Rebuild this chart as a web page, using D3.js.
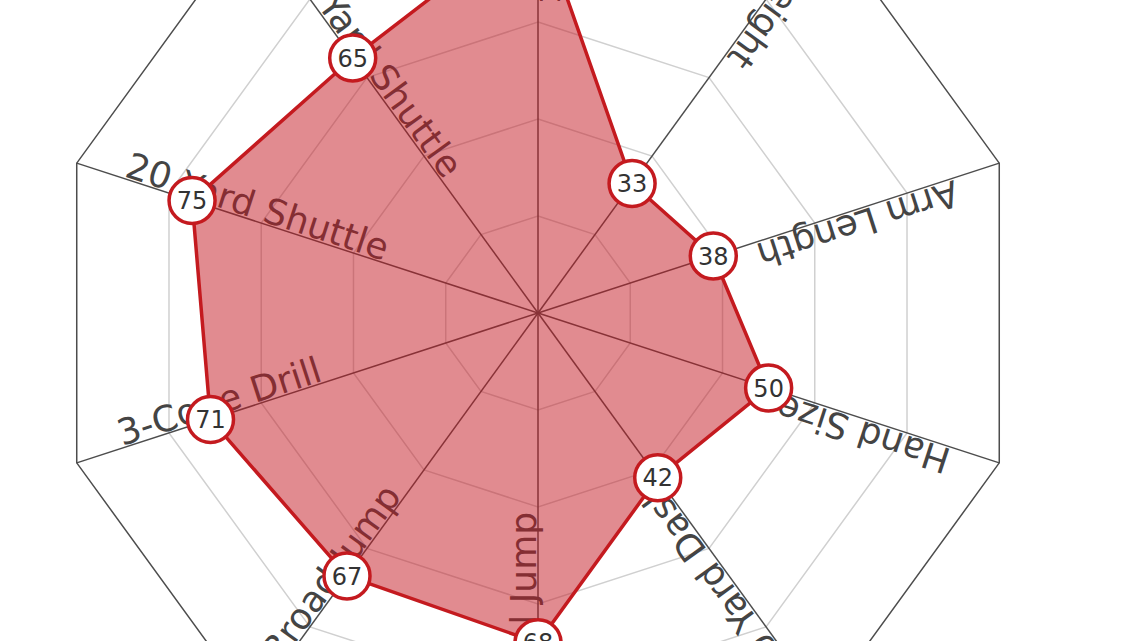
<!DOCTYPE html>
<html>
<head>
<meta charset="utf-8">
<script src="https://cdn.jsdelivr.net/npm/d3@7"></script>
<style>
  html, body { margin: 0; padding: 0; background: #fff; overflow: hidden; }
  svg { display: block; font-family: "DejaVu Sans", Lato, sans-serif; }
</style>
</head>
<body>
<svg id="chart" width="1140" height="641"></svg>
<script>
const categories = ["Weight", "Height", "Arm Length", "Hand Size", "40 Yard Dash",
  "Vertical Jump", "Broad Jump", "3-Cone Drill", "20 Yard Shuttle", "60 Yard Shuttle"];
const values = [82, 33, 38, 50, 42, 68, 67, 71, 75, 65];
const gridLevels = [20, 40, 60, 80, 100];
const maxValue = 100;
const labelLevel = 90;

const W = 1140, H = 641;
const cx = 538, cy = 313;
const R = 485;

const svg = d3.select("#chart");
const g = svg.append("g").attr("transform", `translate(${cx},${cy})`);

const r = d3.scaleLinear().domain([0, maxValue]).range([0, R]);
const angle = d3.scaleLinear().domain([0, categories.length]).range([0, 2 * Math.PI]);

const px = (v, i) => r(v) * Math.sin(angle(i));
const py = (v, i) => -r(v) * Math.cos(angle(i));

const radialClosed = d3.lineRadial()
  .angle((d, i) => angle(i))
  .radius(d => r(d))
  .curve(d3.curveLinearClosed);

// grid rings
g.selectAll("path.ring")
  .data(gridLevels)
  .join("path")
  .attr("class", "ring")
  .attr("d", lvl => radialClosed(categories.map(() => lvl)))
  .attr("fill", "none")
  .attr("stroke", lvl => lvl === maxValue ? "#4d4d4d" : "#d0d0d0")
  .attr("stroke-width", 1.5);

// axis lines
g.selectAll("line.axis")
  .data(categories)
  .join("line")
  .attr("class", "axis")
  .attr("x1", 0).attr("y1", 0)
  .attr("x2", (d, i) => px(maxValue, i))
  .attr("y2", (d, i) => py(maxValue, i))
  .attr("stroke", "#4d4d4d")
  .attr("stroke-width", 1.5);

// axis labels, running from the outside toward the centre
g.selectAll("text.axis-label")
  .data(categories)
  .join("text")
  .attr("class", "axis-label")
  .attr("transform", (d, i) => {
    const a = angle(i);
    const rot = Math.atan2(Math.cos(a), -Math.sin(a)) * 180 / Math.PI;
    return `translate(${px(labelLevel, i)},${py(labelLevel, i)}) rotate(${rot})`;
  })
  .attr("dy", -2)
  .attr("text-anchor", "start")
  .attr("font-size", 36)
  .attr("fill", "#444")
  .text(d => d);

// data area
g.append("path")
  .datum(values)
  .attr("d", radialClosed)
  .attr("fill", "rgba(196, 24, 34, 0.5)")
  .attr("stroke", "#c41a1f")
  .attr("stroke-width", 3.5)
  .attr("stroke-linejoin", "round");

// markers
const marks = g.selectAll("g.mark")
  .data(values)
  .join("g")
  .attr("class", "mark")
  .attr("transform", (d, i) => `translate(${px(d, i)},${py(d, i)})`);

marks.append("circle")
  .attr("r", 23)
  .attr("fill", "#fff")
  .attr("stroke", "#c41a1f")
  .attr("stroke-width", 3.5);

marks.append("text")
  .attr("text-anchor", "middle")
  .attr("dy", "0.36em")
  .attr("font-size", 24)
  .attr("fill", "#333")
  .text(d => d);
</script>
</body>
</html>
